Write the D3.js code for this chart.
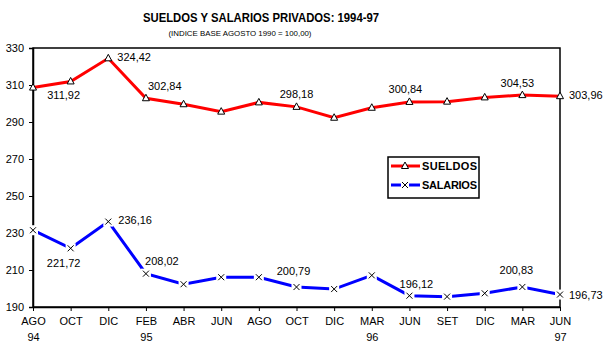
<!DOCTYPE html>
<html>
<head>
  <script src="https://d3js.org/d3.v7.min.js"></script>
  <style>
    body { margin: 0; background: #fff; }
    text { font-family: "Liberation Sans", Arial, sans-serif; fill: #000; }
  </style>
</head>
<body>
  <div id="chart"></div>
  <script type="text/javascript">
    // data
    var months = ["AGO", "OCT", "DIC", "FEB", "ABR", "JUN", "AGO", "OCT", "DIC", "MAR", "JUN", "SET", "DIC", "MAR", "JUN"];
    var years = ["94", "", "", "95", "", "", "", "", "", "96", "", "", "", "", "97"];
    var sueldos = [308.6, 311.92, 324.42, 302.84, 299.6, 295.6, 300.6, 298.18, 292.3, 297.7, 300.84, 301.0, 303.3, 304.53, 303.96];
    var salarios = [231.5, 221.72, 236.16, 208.02, 202.3, 206.1, 206.1, 200.79, 199.7, 207.1, 196.12, 195.6, 197.4, 200.83, 196.73];
    var yTicks = [190, 210, 230, 250, 270, 290, 310, 330];
    var labelIdx = [1, 2, 3, 7, 10, 13, 14];

    // label placement (dx, dy from point, anchor)
    var sueldosPos = {
      1: [-7, 14, "middle"], 2: [9, -1, "start"], 3: [2, -12, "start"], 7: [0, -13, "middle"],
      10: [-4, -13, "middle"], 13: [-5, -12, "middle"], 14: [9, -1, "start"]
    };
    var salariosPos = {
      1: [-7, 15, "middle"], 2: [10, -2, "start"], 3: [16, -13, "middle"], 7: [-3, -16, "middle"],
      10: [7, -12, "middle"], 13: [-6, -17, "middle"], 14: [9, 0, "start"]
    };

    var W = 609, H = 362;
    var pLeft = 33, pRight = 560, pTop = 48, pBottom = 307;

    var svg = d3.select("#chart").append("svg")
      .attr("width", W)
      .attr("height", H);

    var x = d3.scalePoint().domain(d3.range(months.length)).range([pLeft, pRight]);
    var y = d3.scaleLinear().domain([190, 330]).range([pBottom, pTop]);

    // title
    svg.append("text")
      .attr("x", 261).attr("y", 22)
      .attr("text-anchor", "middle")
      .attr("font-size", 13).attr("font-weight", "bold")
      .attr("textLength", 236).attr("lengthAdjust", "spacingAndGlyphs")
      .text("SUELDOS Y SALARIOS PRIVADOS: 1994-97");
    svg.append("text")
      .attr("x", 240).attr("y", 36)
      .attr("text-anchor", "middle")
      .attr("font-size", 8)
      .attr("textLength", 143).attr("lengthAdjust", "spacingAndGlyphs")
      .text("(INDICE BASE AGOSTO 1990 = 100,00)");

    // frame
    svg.append("rect")
      .attr("x", pLeft).attr("y", pTop)
      .attr("width", pRight - pLeft).attr("height", pBottom - pTop)
      .attr("fill", "none").attr("stroke", "#000").attr("stroke-width", 1.5);

    // axes
    var yAxis = svg.append("g")
      .attr("transform", "translate(" + pLeft + ",0)")
      .call(d3.axisLeft(y).tickValues(yTicks).tickSize(4).tickPadding(5).tickFormat(d3.format("d")));
    yAxis.select(".domain").attr("stroke-width", 1.5);
    yAxis.selectAll("text").attr("font-size", 11).style("font-family", "Liberation Sans, Arial, sans-serif");

    var xAxis = svg.append("g")
      .attr("transform", "translate(0," + pBottom + ")")
      .call(d3.axisBottom(x).tickSizeInner(4).tickSizeOuter(0).tickPadding(6)
        .tickFormat(function (i) { return months[i]; }));
    xAxis.select(".domain").attr("stroke-width", 1.5);
    xAxis.selectAll("text").attr("font-size", 11).style("font-family", "Liberation Sans, Arial, sans-serif");
    xAxis.selectAll(".tick").append("text")
      .attr("fill", "#000").attr("y", 34)
      .attr("font-size", 11)
      .style("font-family", "Liberation Sans, Arial, sans-serif")
      .text(function (i) { return years[i]; });

    var line = d3.line()
      .x(function (d, i) { return x(i); })
      .y(function (d) { return y(d); });

    // SUELDOS
    svg.append("path").datum(sueldos)
      .attr("d", line).attr("fill", "none")
      .attr("stroke", "#ff0000").attr("stroke-width", 3);

    // SALARIOS
    svg.append("path").datum(salarios)
      .attr("d", line).attr("fill", "none")
      .attr("stroke", "#0000ff").attr("stroke-width", 3);

    function triangle(g) {
      g.append("path")
        .attr("d", "M0,-4L3.5,2.5L-3.5,2.5Z")
        .attr("fill", "#fff").attr("stroke", "#000").attr("stroke-width", 1);
    }
    function cross(g) {
      g.append("rect").attr("x", -5).attr("y", -5).attr("width", 10).attr("height", 10).attr("fill", "#fff");
      g.append("path")
        .attr("d", "M-3,-3L3,3M3,-3L-3,3")
        .attr("stroke", "#000").attr("stroke-width", 1);
    }

    svg.selectAll(".mk-s").data(sueldos).enter().append("g")
      .attr("class", "mk-s")
      .attr("transform", function (d, i) { return "translate(" + x(i) + "," + y(d) + ")"; })
      .each(function () { triangle(d3.select(this)); });

    svg.selectAll(".mk-b").data(salarios).enter().append("g")
      .attr("class", "mk-b")
      .attr("transform", function (d, i) { return "translate(" + x(i) + "," + y(d) + ")"; })
      .each(function () { cross(d3.select(this)); });

    function fmt(v) { return v.toFixed(2).replace(".", ","); }

    function labels(series, pos) {
      svg.selectAll(null).data(labelIdx).enter().append("text")
        .attr("x", function (i) { return x(i) + pos[i][0]; })
        .attr("y", function (i) { return y(series[i]) + pos[i][1] + 4; })
        .attr("text-anchor", function (i) { return pos[i][2]; })
        .attr("font-size", 11)
        .text(function (i) { return fmt(series[i]); });
    }
    labels(sueldos, sueldosPos);
    labels(salarios, salariosPos);

    // legend
    var lg = svg.append("g");
    lg.append("rect")
      .attr("x", 388).attr("y", 157).attr("width", 91).attr("height", 41)
      .attr("fill", "#fff").attr("stroke", "#000").attr("stroke-width", 1.5);
    var items = [["SUELDOS", "#ff0000", triangle], ["SALARIOS", "#0000ff", cross]];
    items.forEach(function (it, k) {
      var yy = 166 + k * 19;
      lg.append("line")
        .attr("x1", 391).attr("x2", 420).attr("y1", yy).attr("y2", yy)
        .attr("stroke", it[1]).attr("stroke-width", 3);
      var m = lg.append("g").attr("transform", "translate(405," + yy + ")");
      if (k == 1) {
        m.append("rect").attr("x", -4).attr("y", -4).attr("width", 8).attr("height", 8).attr("fill", "#fff");
        m.append("path").attr("d", "M-3,-3L3,3M3,-3L-3,3").attr("stroke", "#000");
      } else {
        it[2](m);
      }
      lg.append("text")
        .attr("x", 422).attr("y", yy + 4)
        .attr("font-size", 11).attr("font-weight", "bold")
        .attr("textLength", 55).attr("lengthAdjust", "spacing")
        .text(it[0]);
    });
  </script>
</body>
</html>
